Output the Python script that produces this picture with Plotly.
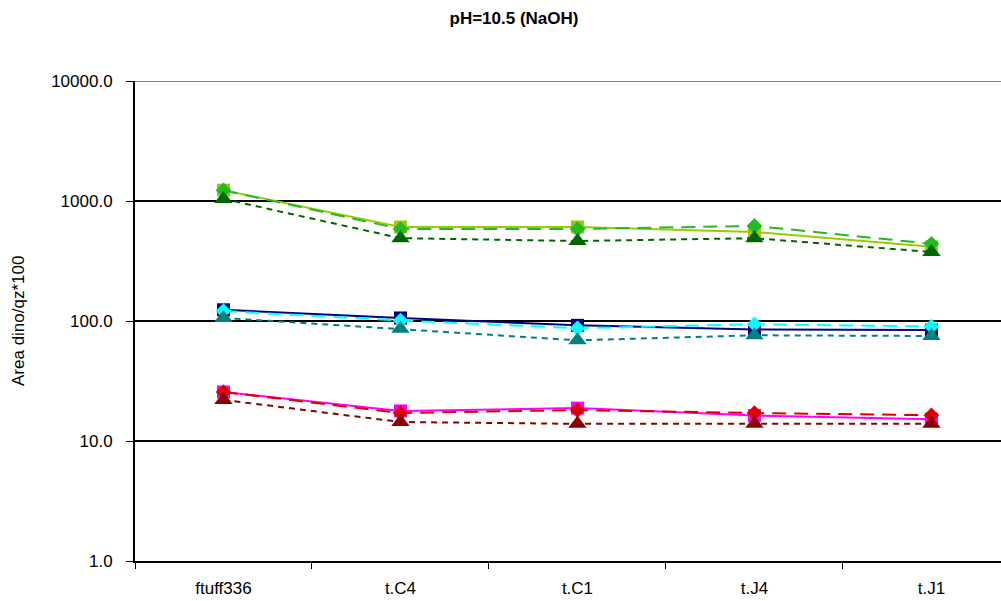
import plotly.graph_objects as go

# Sample sites along the x axis
categories = ["ftuff336", "t.C4", "t.C1", "t.J4", "t.J1"]

# Area dino/qz*100 for each series (log scale)
green_solid = [1230, 607, 607, 552, 415]
green_dash = [1230, 585, 585, 620, 440]
green_dot = [1040, 490, 464, 490, 376]

blue_solid = [124, 106, 92, 85, 84]
blue_dash = [121, 101, 87, 94, 90]
blue_dot = [106, 86, 69, 76, 75]

red_solid = [25.6, 17.8, 18.8, 16.3, 15.2]
red_dash = [25.6, 17.1, 18.1, 17.1, 16.4]
red_dot = [22.0, 14.4, 13.9, 13.9, 13.9]

y_tick_values = [1, 10, 100, 1000, 10000]
y_tick_labels = ["1.0", "10.0", "100.0", "1000.0", "10000.0"]

LONG_DASH = "14px,8px"
SHORT_DASH = "6px,5px"
MARKER_SIZES = {"square": 13, "diamond": 12, "triangle-up": 16}

series = [
    (green_solid, "#99CC00", "solid", "square"),
    (green_dash, "#22BB22", LONG_DASH, "diamond"),
    (green_dot, "#006600", SHORT_DASH, "triangle-up"),
    (blue_solid, "#000080", "solid", "square"),
    (blue_dash, "#00FFFF", LONG_DASH, "diamond"),
    (blue_dot, "#008080", SHORT_DASH, "triangle-up"),
    (red_solid, "#FF00FF", "solid", "square"),
    (red_dash, "#DD0000", LONG_DASH, "diamond"),
    (red_dot, "#8B0000", SHORT_DASH, "triangle-up"),
]

fig = go.Figure()
for values, color, dash, symbol in series:
    fig.add_trace(go.Scatter(
        x=categories, y=values, mode="lines+markers",
        line=dict(color=color, width=2, dash=dash),
        marker=dict(color=color, symbol=symbol, size=MARKER_SIZES[symbol],
                    line=dict(width=0)),
        showlegend=False, cliponaxis=False,
    ))

fig.update_layout(
    width=1001, height=601,
    margin=dict(l=135, r=0, t=81, b=40),
    paper_bgcolor="white", plot_bgcolor="white",
    font=dict(family="Arial, Liberation Sans, sans-serif", size=17, color="black"),
    title=dict(text="<b>pH=10.5 (NaOH)</b>", x=514 / 1001, xref="container", xanchor="center",
               y=1 - 18 / 601, yref="container", yanchor="middle",
               font=dict(size=17, color="black")),
    xaxis=dict(
        type="category", range=[-0.5, 4.393],
        showline=True, linecolor="black", linewidth=2,
        ticks="outside", tickson="boundaries", ticklen=6, tickcolor="black", tickwidth=1,
        showgrid=False, tickfont=dict(size=17), ticklabelstandoff=11,
    ),
    yaxis=dict(
        type="log", range=[0, 4],
        tickvals=y_tick_values, ticktext=y_tick_labels,
        showline=True, linecolor="black", linewidth=2,
        ticks="outside", ticklen=7, tickcolor="black", tickwidth=1,
        showgrid=True, gridcolor="black", gridwidth=2,
        tickfont=dict(size=17), zeroline=False, ticklabelstandoff=10,
    ),
    annotations=[dict(
        text="Area dino/qz*100", textangle=-90, xref="paper", yref="paper",
        x=(18 - 135) / 866, y=0.5, xanchor="center", yanchor="middle",
        showarrow=False, font=dict(size=17, color="black"),
    )],
    shapes=[dict(type="line", xref="paper", yref="y", x0=0, x1=1, y0=10000, y1=10000,
                 line=dict(color="#808080", width=2), layer="above")],
)

fig.write_html("out.html")
